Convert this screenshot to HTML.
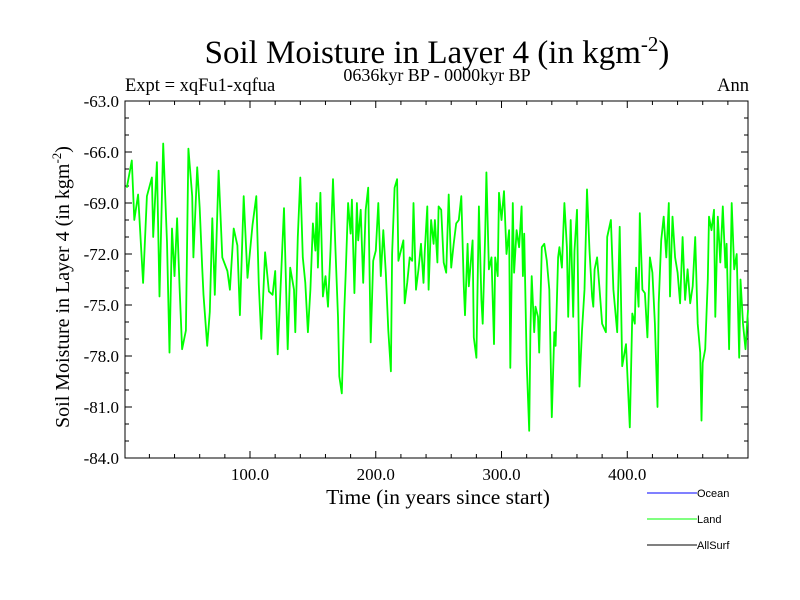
<!DOCTYPE html>
<html><head><meta charset="utf-8"><style>
html,body{margin:0;padding:0;background:#fff;}
svg{display:block;font-family:"Liberation Serif",serif;}
</style></head><body>
<svg id="chart" width="800" height="600" viewBox="0 0 800 600" xmlns="http://www.w3.org/2000/svg">
<text x="437" y="63" text-anchor="middle" font-size="33">Soil Moisture in Layer 4 (in kgm<tspan dy="-12" font-size="21">-2</tspan><tspan dy="12">)</tspan></text>
<text x="437" y="81" text-anchor="middle" font-size="18">0636kyr BP - 0000kyr BP</text>
<text x="125" y="91" font-size="18.5">Expt = xqFu1-xqfua</text>
<text x="749" y="91" text-anchor="end" font-size="18.5">Ann</text>
<text transform="translate(69,287) rotate(-90)" text-anchor="middle" font-size="20">Soil Moisture in Layer 4 (in kgm<tspan dy="-8" font-size="13">-2</tspan><tspan dy="8">)</tspan></text>
<text x="438" y="504" text-anchor="middle" font-size="21.5">Time (in years since start)</text>
<g id="axes"></g>
<g id="series"></g>
<g id="legend" font-family="Liberation Sans, sans-serif" font-size="11">
<g><line x1="647" y1="493" x2="697" y2="493" stroke="#0000ff" stroke-width="1"/><text x="697" y="497">Ocean</text></g>
<g><line x1="647" y1="519" x2="697" y2="519" stroke="#00ff00" stroke-width="1"/><text x="697" y="523">Land</text></g>
<g><line x1="647" y1="545" x2="697" y2="545" stroke="#000" stroke-width="1"/><text x="697" y="549">AllSurf</text></g>
</g>
</svg>
<script>
const years = [2,6,8,11,15,18,22,23,26,28,31,34,36,38,40,42,44,46,49,51,54,55,58,60,62,63,66,68,70,72,75,78,82,84,87,90,92,95,98,102,105,107,109,112,115,118,120,122,124,
127,130,132,135,136,138,140,142,144,146,148,150,152,153,154,156,158,160,162,164,166,168,170,171,173,175,176,178,180,181,183,185,186,188,190,192,194,196,198,200,202,204,206,208,210,212,213,215,217,218,220,222,223,225,227,229,230,232,234,236,238,239,241,242,244,246,247,249,
250,252,254,256,258,260,262,264,266,268,270,271,273,274,277,278,280,282,284,285,287,288,290,292,294,295,297,298,300,302,304,306,307,309,310,312,314,316,317,318,320,322,323,324,326,327,329,330,332,334,336,338,340,342,343,345,346,348,350,352,353,355,357,358,360,362,364,366,368,370,372,373,
374,376,378,380,383,384,387,389,392,394,396,399,402,404,406,407,409,410,412,414,416,418,420,422,424,425,427,429,431,433,434,436,438,440,442,444,446,448,450,452,454,456,458,459,460,462,464,465,467,469,470,472,474,476,478,479,481,483,485,487,489,490,492,494,496];
const values = [-68.1,-66.5,-70,-68.5,-73.7,-68.6,-67.5,-71,-66.6,-74.5,-65.5,-71.3,-77.8,-70.5,-73.3,-69.9,-74,-77.6,-76.5,-65.8,-68.6,-72.2,-66.9,-69.3,-72.8,-74.4,-77.4,-75.4,-69.9,-74.4,-67.1,-72.2,-73,-74.1,-70.5,-71.5,-75.6,-68.6,-73.4,-70.3,-68.6,-73.8,-77,-71.9,-74.2,-74.4,-73,-77.9,-74.5,
-69.3,-77.6,-72.8,-74.1,-76.6,-71,-67.5,-72.2,-73.7,-76.6,-74.1,-70.2,-71.8,-69,-72.8,-68.4,-74.5,-73.3,-75.1,-71.8,-67.6,-71.8,-75.7,-79.2,-80.2,-75.3,-73.3,-69,-70.8,-68.8,-74.3,-69,-71.2,-69.4,-73.7,-69.4,-68.1,-77.2,-72.4,-71.8,-69,-73.3,-70.6,-73.1,-76.5,-78.9,-72,-68.1,-67.6,-72.4,-71.8,-71.2,-74.9,-73.7,-72.2,-72.4,-69,-74.1,-72.9,-71.4,-73.7,-71.8,-69.2,-74.1,-70,-71.4,-70,-72.5,
-69.2,-69.4,-72.5,-73.1,-68.5,-72.8,-71.4,-70.2,-70,-68.6,-73.9,-75.6,-71.4,-73.9,-71.2,-76.9,-78.1,-69.2,-74.7,-76.1,-70.8,-67.2,-72.9,-72.2,-77.3,-72.2,-73.3,-68.4,-70,-68.3,-72,-70.6,-78.7,-69,-73.1,-70.6,-71.6,-69.2,-73.3,-70.8,-78.4,-82.4,-76.6,-73.3,-76.6,-75.1,-75.7,-77.8,-71.6,-71.4,-72.4,-74.1,-81.6,-76.6,-77.4,-72.2,-71.6,-72.8,-69,-71.6,-75.7,-70,-75.7,-71.8,-69.4,-79.8,-76.5,-74.1,-68.2,-71.8,-74.5,-75.1,
-72.9,-72.2,-74.1,-76.1,-76.6,-71,-70,-74.1,-76.6,-70.4,-78.6,-77.3,-82.2,-75.5,-76.1,-72.8,-75.1,-69.6,-74.1,-74.3,-76.9,-72.2,-73.1,-76.1,-81,-74.9,-71.2,-69.8,-72.2,-69,-74.5,-69.8,-72.2,-73.1,-74.9,-71,-74.7,-72.9,-74.9,-73.9,-71,-76.1,-77.8,-81.8,-78.4,-77.6,-73.5,-69.8,-70.6,-69.4,-75.7,-69.8,-72.5,-69.2,-72.8,-71.4,-77.6,-69,-72.9,-72,-78.1,-73.5,-76.1,-77.6,-75.3,-69.4,-69,-74.1];
const yTickValues = [-63,-66,-69,-72,-75,-78,-81,-84];
const yTickLabels = ["-63.0","-66.0","-69.0","-72.0","-75.0","-78.0","-81.0","-84.0"];
const xTickValues = [100,200,300,400];
const xTickLabels = ["100.0","200.0","300.0","400.0"];

const L=125,R=748,T=101,B=458, X0=0.6, X1=496, Y0=-84, Y1=-63;
const sx=v=>L+(v-X0)/(X1-X0)*(R-L);
const sy=v=>B-(v-Y0)/(Y1-Y0)*(B-T);
const NS="http://www.w3.org/2000/svg";
const axes=document.getElementById('axes');
function mk(tag,attrs,parent){const e=document.createElementNS(NS,tag);for(const k in attrs)e.setAttribute(k,attrs[k]);parent.appendChild(e);return e;}
const frame=mk('rect',{x:L,y:T,width:R-L,height:B-T,fill:'none',stroke:'#000','stroke-width':1},axes);


for(let v=Y0;v<=Y1;v++){
  const major=(v%3===0);const len=major?7:4;const y=sy(v);
  const t1=mk('line',{x1:L,y1:y,x2:L+len,y2:y,stroke:'#000'},axes);
  
  
  const t2=mk('line',{x1:R,y1:y,x2:R-len,y2:y,stroke:'#000'},axes);
  
  
}
yTickValues.forEach((v,i)=>{
  const t=mk('text',{x:L-6,y:sy(v)+6,'text-anchor':'end','font-size':17},axes);
  t.textContent=yTickLabels[i];
  
  
});
for(let v=20;v<X1;v+=20){
  const major=(v%100===0);const len=major?7:4;const x=sx(v);
  const t1=mk('line',{x1:x,y1:B,x2:x,y2:B-len,stroke:'#000'},axes);
  
  
  const t2=mk('line',{x1:x,y1:T,x2:x,y2:T+len,stroke:'#000'},axes);
  
  
}
xTickValues.forEach((v,i)=>{
  const t=mk('text',{x:sx(v),y:B+22,'text-anchor':'middle','font-size':17},axes);
  t.textContent=xTickLabels[i];
  
  
});
const pts=years.map((yr,i)=>sx(yr).toFixed(1)+','+sy(values[i]).toFixed(1)).join(' ');
const line=mk('polyline',{points:pts,fill:'none',stroke:'#00ff00','stroke-width':1.8,'stroke-linejoin':'round'},document.getElementById('series'));


</script>
</body></html>
